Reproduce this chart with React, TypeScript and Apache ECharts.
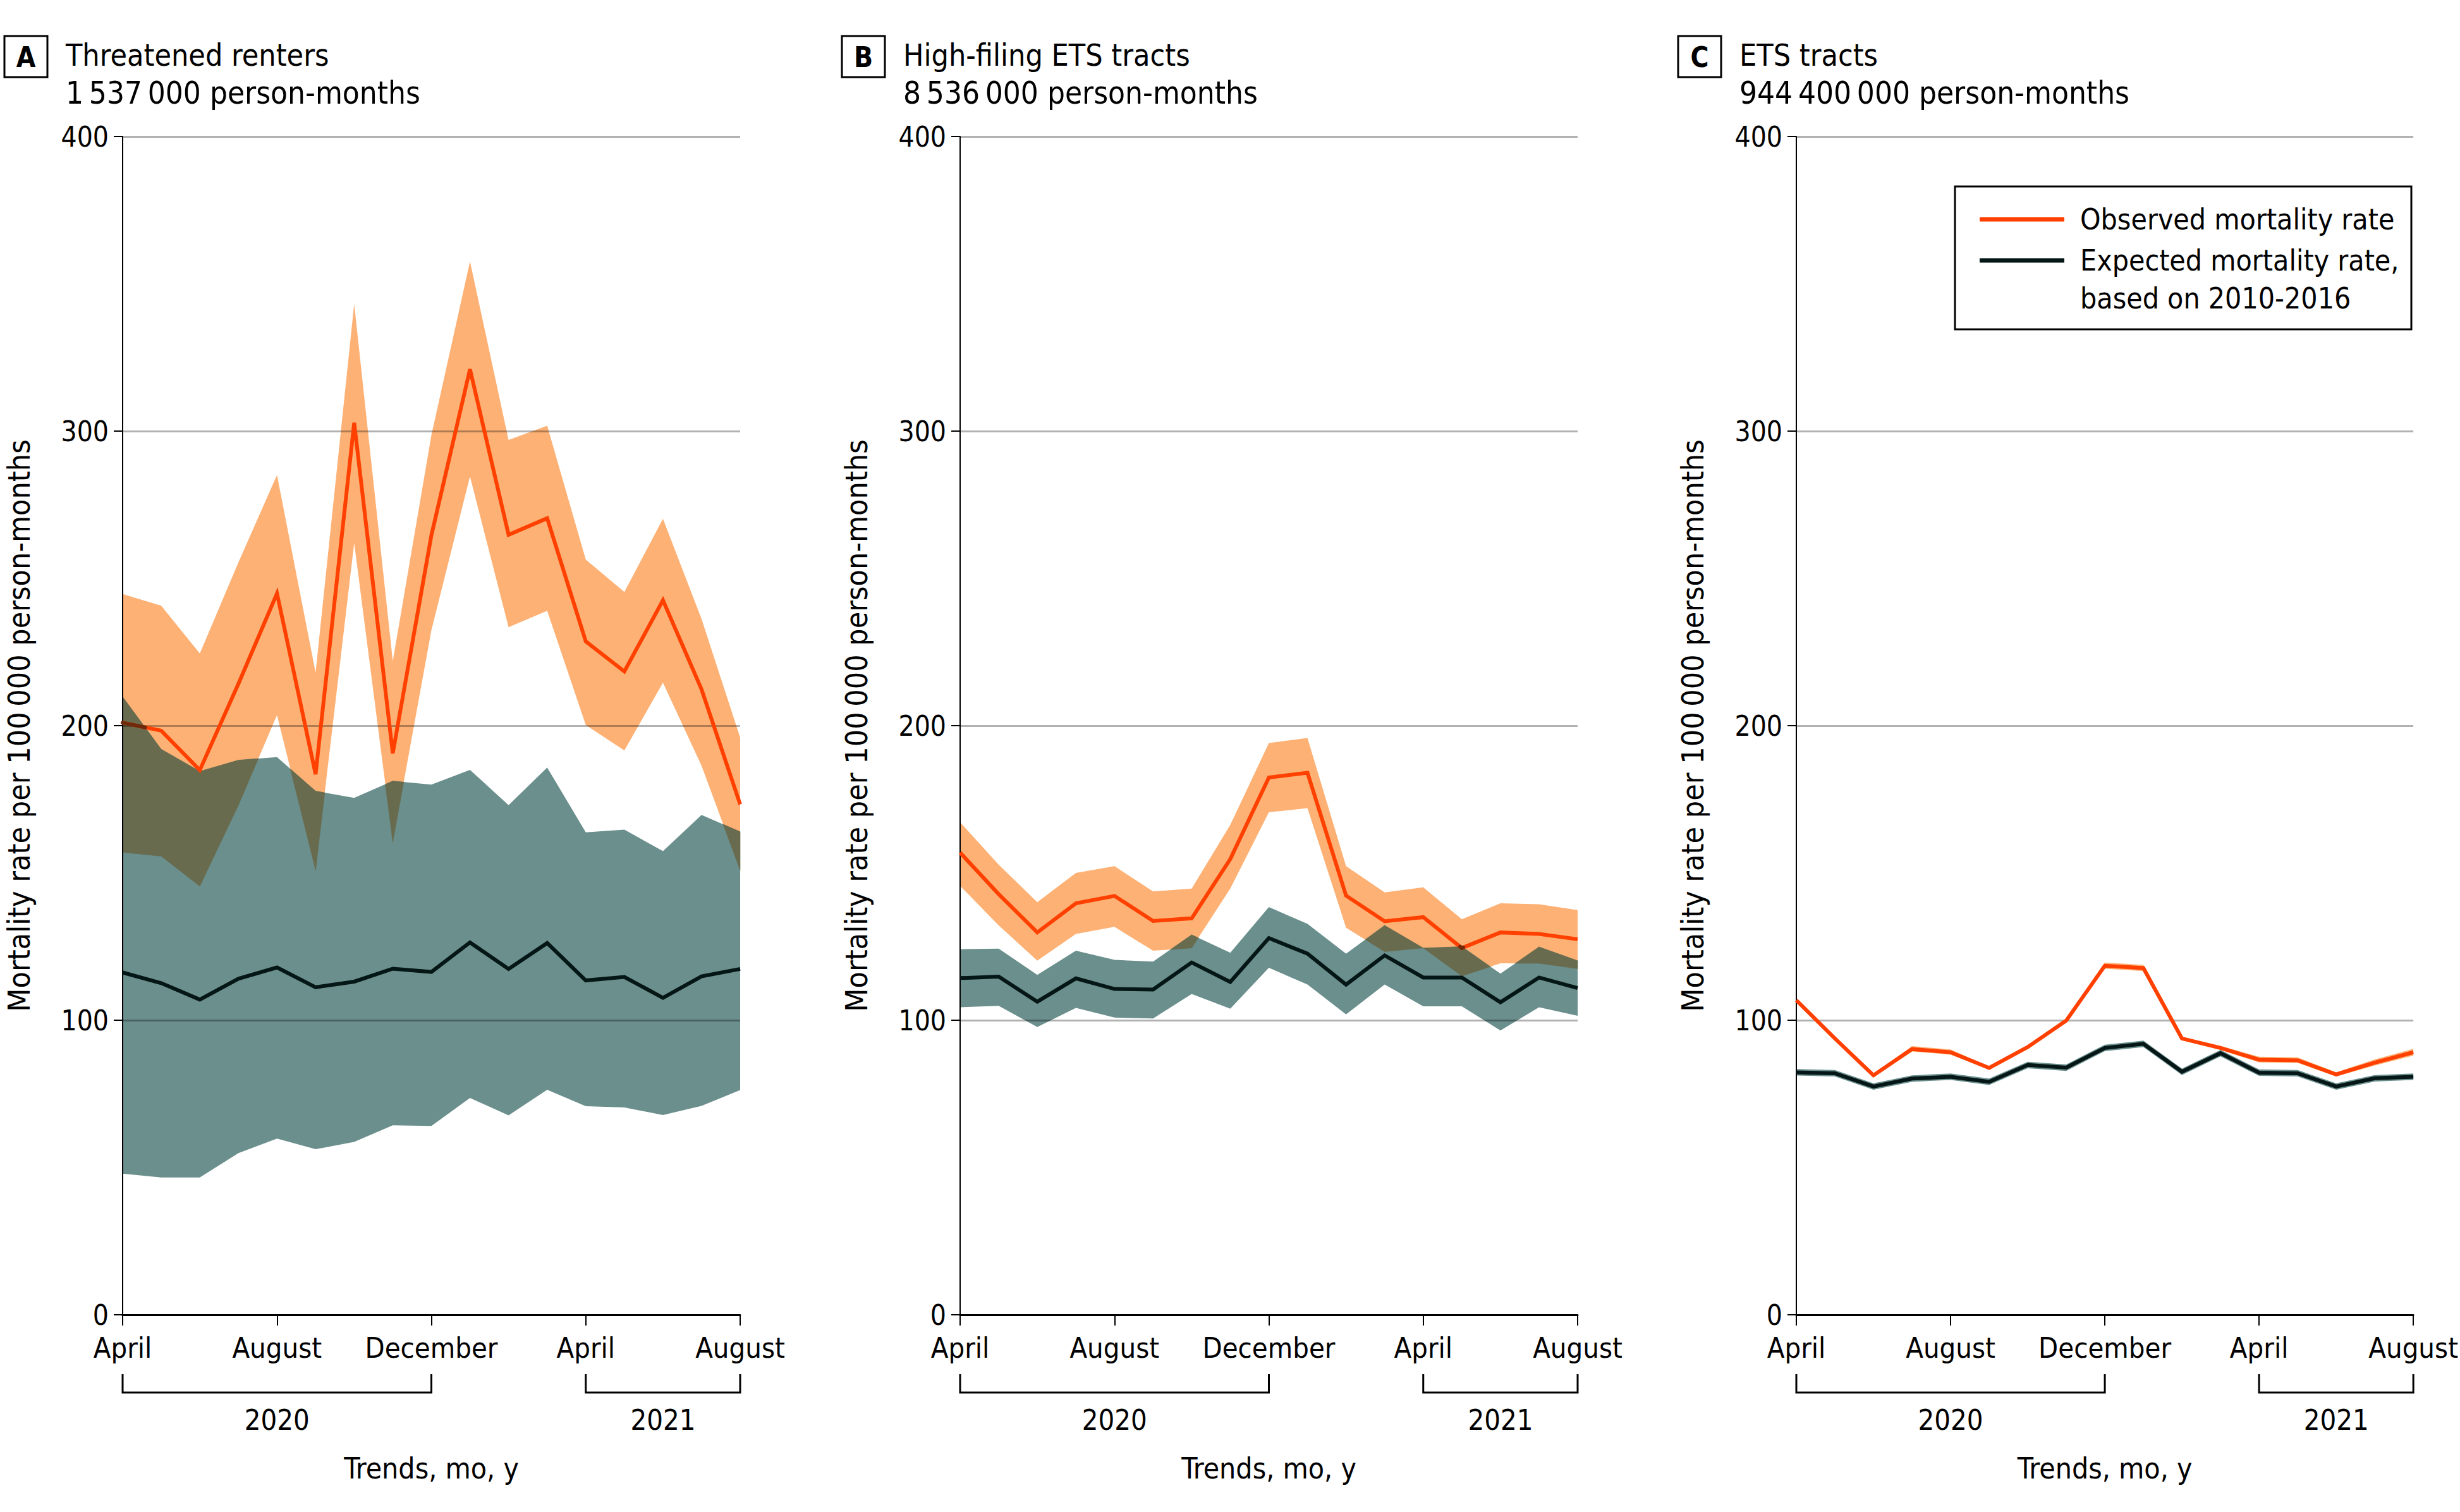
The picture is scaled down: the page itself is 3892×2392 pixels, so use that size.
import React, { useEffect, useRef } from "react";
import * as echarts from "echarts";

// ---------- data ----------
const months = [
  "April 2020", "May 2020", "June 2020", "July 2020", "August 2020", "September 2020",
  "October 2020", "November 2020", "December 2020", "January 2021", "February 2021",
  "March 2021", "April 2021", "May 2021", "June 2021", "July 2021", "August 2021",
];
const yearLabels = ["2020", "2021"];
const yearStartIdx = [0, 12];
const yearEndIdx = [8, 16];

const panelLetters = ["A", "B", "C"];
const panelTitles = ["Threatened renters", "High-filing ETS tracts", "ETS tracts"];
const panelSubtitles = [
  "1\u2009537\u2009000 person-months",
  "8\u2009536\u2009000 person-months",
  "944\u2009400\u2009000 person-months",
];
const yAxisTitle = "Mortality rate per 100\u2009000 person-months";
const xAxisTitle = "Trends, mo, y";
const legendObserved = "Observed mortality rate";
const legendExpected1 = "Expected mortality rate,";
const legendExpected2 = "based on 2010-2016";

// Panel A: threatened renters
const obsA = [201, 198.3, 184.9, 214.2, 244.9, 183.5, 302.8, 190.6, 264.6, 321, 264.8, 270.4, 228.6, 218.4, 242.6, 212.3, 173.3];
const obsHighA = [244.7, 240.7, 224.5, 255.4, 285.1, 218, 343.2, 221.9, 298.6, 357.6, 297, 301.8, 256.4, 245.4, 270.2, 236.2, 196];
const obsLowA = [157, 155.7, 145.5, 173, 203.6, 150.9, 262, 160.5, 232.4, 284.6, 233.4, 239, 200.2, 191.6, 214.6, 186.4, 150.9];
const expA = [116.2, 112.6, 107, 114.1, 117.9, 111.2, 113.1, 117.5, 116.4, 126.4, 117.4, 126.2, 113.5, 114.7, 107.6, 114.9, 117.4];
const expHighA = [209.8, 192, 184.5, 188.3, 189.3, 177.8, 175.5, 181.2, 180, 185, 173, 185.8, 163.8, 164.7, 157.4, 169.7, 164];
const expLowA = [47.9, 46.6, 46.6, 54.9, 59.8, 56.2, 58.7, 64.3, 64.1, 73.6, 67.7, 76.4, 70.8, 70.4, 67.8, 70.9, 76.3];

// Panel B: high-filing ETS tracts
const obsB = [156.9, 142.8, 129.8, 139.7, 142.2, 133.7, 134.6, 154.7, 182.4, 184, 142.3, 133.6, 135, 124.5, 129.8, 129.3, 127.5];
const obsHighB = [167.2, 152.8, 140.1, 150, 152.3, 143.7, 144.7, 166.3, 194.1, 195.8, 152.3, 143.4, 145.1, 134.3, 139.7, 139.4, 137.4];
const obsLowB = [145.6, 132.2, 120.2, 129.3, 131.7, 123.6, 124.5, 144.7, 170.6, 172, 131.4, 123.3, 124.5, 115, 119.3, 119.3, 117.5];
const expB = [114.3, 114.8, 106.3, 114.2, 110.6, 110.4, 119.6, 113, 127.9, 122.6, 112.1, 122, 114.5, 114.5, 106.1, 114.5, 110.9];
const expHighB = [124.1, 124.3, 115.4, 123.6, 120.5, 119.9, 129, 122.9, 138.4, 132.7, 122.6, 132.2, 124.5, 125, 115.8, 124.9, 120.2];
const expLowB = [104.4, 104.9, 97.7, 104.2, 100.9, 100.6, 108.9, 103.9, 117.8, 112.1, 102, 112.1, 104.7, 104.7, 96.5, 104.4, 101.5];

// Panel C: ETS tracts
const obsC = [106.8, 93.8, 81.3, 90.2, 89.1, 83.8, 90.9, 99.9, 118.5, 117.7, 93.8, 90.6, 86.6, 86.4, 81.6, 85.6, 89.1];
const obsHighC = [107.3, 94.3, 81.8, 91.2, 90.1, 84.3, 91.4, 100.5, 119.6, 118.8, 94.3, 91.3, 87.6, 87.4, 82.3, 86.7, 90.3];
const obsLowC = [106.3, 93.3, 80.8, 89.4, 88.3, 83.3, 90.4, 99.3, 117.5, 116.7, 93.3, 89.9, 85.7, 85.5, 80.9, 84.6, 88];
const expC = [82.3, 82, 77.5, 80.2, 80.8, 79.1, 84.8, 83.9, 90.6, 92, 82.5, 88.8, 82.2, 82, 77.5, 80.3, 80.8];
const expHighC = [83.4, 83.1, 78.6, 81.3, 81.9, 80.2, 85.9, 85, 91.7, 93.1, 83.6, 89.9, 83.3, 83.1, 78.6, 81.4, 81.9];
const expLowC = [81.2, 80.9, 76.4, 79.1, 79.7, 78, 83.7, 82.8, 89.5, 90.9, 81.4, 87.7, 81.1, 80.9, 76.4, 79.2, 79.7];

const yMin = 0;
const yMax = 400;
const yStep = 100;

const panels = [
  { obs: obsA, obsHigh: obsHighA, obsLow: obsLowA, exp: expA, expHigh: expHighA, expLow: expLowA },
  { obs: obsB, obsHigh: obsHighB, obsLow: obsLowB, exp: expB, expHigh: expHighB, expLow: expLowB },
  { obs: obsC, obsHigh: obsHighC, obsLow: obsLowC, exp: expC, expHigh: expHighC, expLow: expLowC },
];

// ---------- style / layout ----------
const FONT = "'DejaVu Sans Condensed', 'Liberation Sans Narrow', 'Noto Sans', sans-serif";
const ORANGE_LINE = "#ff4000";
const ORANGE_BAND = "#fdb175";
const TEAL_BAND = "#6a8f8d";
const OVERLAP = "#696b4e";
const DARK_RED = "#6e2a0a";
const DARK_LINE = "#051616";
const W = 3892;
const H = 2392;
const GRID_LEFTS = [194, 1519, 2842];
const GRID_W = 977;
const GRID_TOP = 216;
const GRID_BOTTOM = 2080;

function bandSeries(k: number, low: number[], high: number[], color: string, z: number, id: string) {
  const diff = high.map((h, i) => +(h - low[i]).toFixed(3));
  return [
    {
      type: "line", xAxisIndex: k, yAxisIndex: k, stack: id, data: low, symbol: "none",
      silent: true, lineStyle: { opacity: 0, width: 0 }, z,
    },
    {
      type: "line", xAxisIndex: k, yAxisIndex: k, stack: id, data: diff, symbol: "none",
      silent: true, lineStyle: { opacity: 0, width: 0 }, z,
      areaStyle: { color, opacity: 1 },
    },
  ];
}

// overlap of the two confidence bands (and the observed line inside the expected band),
// drawn per month-to-month segment through the axes' own coordinate system
function overlapSeries(k: number, p: any) {
  const segs = months.slice(0, -1).map((_, i) => [i]);
  return {
    type: "custom", xAxisIndex: k, yAxisIndex: k, data: segs, z: 3, silent: true,
    renderItem: (params: any, api: any) => {
      const i = api.value(0);
      const lines = [p.obsLow, p.obsHigh, p.expLow, p.expHigh, p.obs];
      const lin = (arr: number[], t: number) => arr[i] + (arr[i + 1] - arr[i]) * t;
      const ts: number[] = [0, 1];
      for (let a = 0; a < lines.length; a++) {
        for (let b = a + 1; b < lines.length; b++) {
          const d0 = lines[a][i] - lines[b][i];
          const d1 = lines[a][i + 1] - lines[b][i + 1];
          if (d0 * d1 < 0) ts.push(d0 / (d0 - d1));
        }
      }
      ts.sort((x, y) => x - y);
      const xa = api.coord([i, 0])[0];
      const xb = api.coord([i + 1, 0])[0];
      const X = (t: number) => xa + (xb - xa) * t;
      const Y = (v: number) => api.coord([i, v])[1];
      const children: any[] = [];
      for (let s = 0; s < ts.length - 1; s++) {
        const t0 = ts[s], t1 = ts[s + 1];
        if (t1 - t0 < 1e-6) continue;
        const tm = (t0 + t1) / 2;
        const lowF = (t: number) => Math.max(lin(p.obsLow, t), lin(p.expLow, t));
        const upF = (t: number) => Math.min(lin(p.obsHigh, t), lin(p.expHigh, t));
        if (upF(tm) > lowF(tm)) {
          children.push({
            type: "polygon",
            shape: {
              points: [
                [X(t0), Y(lowF(t0))], [X(t1), Y(lowF(t1))],
                [X(t1), Y(Math.max(upF(t1), lowF(t1)))], [X(t0), Y(Math.max(upF(t0), lowF(t0)))],
              ],
            },
            style: { fill: OVERLAP, stroke: OVERLAP, lineWidth: 0.6 },
          });
        }
        const rm = lin(p.obs, tm);
        if (rm > lin(p.expLow, tm) && rm < lin(p.expHigh, tm)) {
          children.push({
            type: "line", z2: 5,
            shape: { x1: X(t0), y1: Y(lin(p.obs, t0)), x2: X(t1), y2: Y(lin(p.obs, t1)) },
            style: { stroke: DARK_RED, lineWidth: 6, lineCap: "round" },
          });
        }
      }
      return { type: "group", children };
    },
  };
}

function buildOption() {
  const grid = GRID_LEFTS.map((left) => ({
    left, top: GRID_TOP, width: GRID_W, height: GRID_BOTTOM - GRID_TOP, containLabel: false,
  }));
  const xAxis = GRID_LEFTS.map((_, k) => ({
    type: "category", gridIndex: k, data: months, boundaryGap: false, z: 8,
    axisLine: { show: true, onZero: false, lineStyle: { color: "#000", width: 3 } },
    axisTick: { show: true, length: 17, interval: (i: number) => i % 4 === 0, lineStyle: { color: "#000", width: 2 } },
    axisLabel: {
      interval: (i: number) => i % 4 === 0, formatter: (v: string) => v.split(" ")[0],
      margin: 30, fontSize: 45, color: "#000", fontFamily: FONT,
    },
    splitLine: { show: false },
    name: xAxisTitle, nameLocation: "middle", nameGap: 243,
    nameTextStyle: { fontSize: 46, color: "#000", fontFamily: FONT, verticalAlign: "middle" },
  }));
  const yAxis = GRID_LEFTS.map((_, k) => ({
    type: "value", gridIndex: k, min: yMin, max: yMax, interval: yStep, z: 4,
    axisLine: { show: true, lineStyle: { color: "#000", width: 2 } },
    axisTick: { show: true, length: 14, lineStyle: { color: "#000", width: 2 } },
    axisLabel: { margin: 22, fontSize: 44, color: "#000", fontFamily: FONT },
    splitLine: { show: true, lineStyle: { color: "rgba(0,0,0,0.3)", width: 3 } },
    name: yAxisTitle, nameLocation: "middle", nameGap: 164, nameRotate: 90,
    nameTextStyle: { fontSize: 48, color: "#000", fontFamily: FONT, verticalAlign: "middle" },
  }));
  const series: any[] = [];
  panels.forEach((p, k) => {
    series.push(...bandSeries(k, p.obsLow, p.obsHigh, ORANGE_BAND, 1, "ob" + k));
    series.push(...bandSeries(k, p.expLow, p.expHigh, TEAL_BAND, 2, "eb" + k));
    series.push(overlapSeries(k, p));
    series.push({
      type: "line", name: legendObserved, xAxisIndex: k, yAxisIndex: k, data: p.obs, symbol: "none", z: 5,
      lineStyle: { color: ORANGE_LINE, width: 6, join: "miter" }, itemStyle: { color: ORANGE_LINE },
    });
    // observed line where it runs inside the expected band (band drawn over it in the original)
    const inner = overlapSeries(k, p) as any;
    inner.z = 6;
    const baseRender = inner.renderItem;
    inner.renderItem = (params: any, api: any) => {
      const g = baseRender(params, api);
      g.children = g.children.filter((c: any) => c.type === "line");
      return g;
    };
    series.push(inner);
    series.push({
      type: "line", name: "Expected mortality rate, based on 2010-2016", xAxisIndex: k, yAxisIndex: k,
      data: p.exp, symbol: "none", z: 7,
      lineStyle: { color: DARK_LINE, width: 6, join: "miter" }, itemStyle: { color: DARK_LINE },
    });
  });
  // the overlap-only series should not draw the dark segments
  series.forEach((s) => {
    if (s.type === "custom" && s.z === 3) {
      const r = s.renderItem;
      s.renderItem = (params: any, api: any) => {
        const g = r(params, api);
        g.children = g.children.filter((c: any) => c.type === "polygon");
        return g;
      };
    }
  });
  return {
    animation: false,
    backgroundColor: "#fff",
    textStyle: { fontFamily: FONT },
    grid, xAxis, yAxis, series,
  };
}

function buildGraphics(chart: any) {
  const els: any[] = [];
  GRID_LEFTS.forEach((left, k) => {
    els.push({
      type: "rect", shape: { x: left - 187, y: 57, width: 68, height: 65 },
      style: { fill: "#fff", stroke: "#000", lineWidth: 3 },
    });
    els.push({
      type: "text", x: left - 153, y: 90,
      style: { text: panelLetters[k], font: `bold 44px ${FONT}`, fill: "#000", align: "center", verticalAlign: "middle" },
    });
    els.push({
      type: "text", x: left - 90, y: 87,
      style: { text: panelTitles[k], font: `48px ${FONT}`, fill: "#000", align: "left", verticalAlign: "middle" },
    });
    els.push({
      type: "text", x: left - 90, y: 147,
      style: { text: panelSubtitles[k], font: `49px ${FONT}`, fill: "#000", align: "left", verticalAlign: "middle" },
    });
    yearLabels.forEach((lab, j) => {
      const x1 = chart.convertToPixel({ xAxisIndex: k }, yearStartIdx[j]);
      const x2 = chart.convertToPixel({ xAxisIndex: k }, yearEndIdx[j]);
      els.push({
        type: "polyline",
        shape: { points: [[x1, 2174], [x1, 2203], [x2, 2203], [x2, 2174]] },
        style: { stroke: "#000", lineWidth: 3, fill: null },
      });
      els.push({
        type: "text", x: (x1 + x2) / 2, y: 2246,
        style: { text: lab, font: `45px ${FONT}`, fill: "#000", align: "center", verticalAlign: "middle" },
      });
    });
  });
  els.push({
    type: "rect", shape: { x: 3093, y: 295, width: 722, height: 226 },
    style: { fill: "#fff", stroke: "#000", lineWidth: 3 }, z: 10,
  });
  els.push({
    type: "line", shape: { x1: 3132, y1: 347, x2: 3266, y2: 347 },
    style: { stroke: ORANGE_LINE, lineWidth: 7 }, z: 11,
  });
  els.push({
    type: "line", shape: { x1: 3132, y1: 412, x2: 3266, y2: 412 },
    style: { stroke: DARK_LINE, lineWidth: 7 }, z: 11,
  });
  [[legendObserved, 347], [legendExpected1, 412], [legendExpected2, 472]].forEach(([t, y]) => {
    els.push({
      type: "text", x: 3291, y: y as number, z: 11,
      style: { text: t as string, font: `46px ${FONT}`, fill: "#000", align: "left", verticalAlign: "middle" },
    });
  });
  return els;
}

export default function App() {
  const ref = useRef<HTMLDivElement>(null);
  useEffect(() => {
    document.body.style.margin = "0";
    const chart = echarts.init(ref.current as HTMLDivElement, null, { renderer: "svg" });
    chart.setOption(buildOption() as any);
    chart.setOption({ graphic: buildGraphics(chart) } as any);
    return () => chart.dispose();
  }, []);
  return <div ref={ref} style={{ width: W, height: H }} />;
}
